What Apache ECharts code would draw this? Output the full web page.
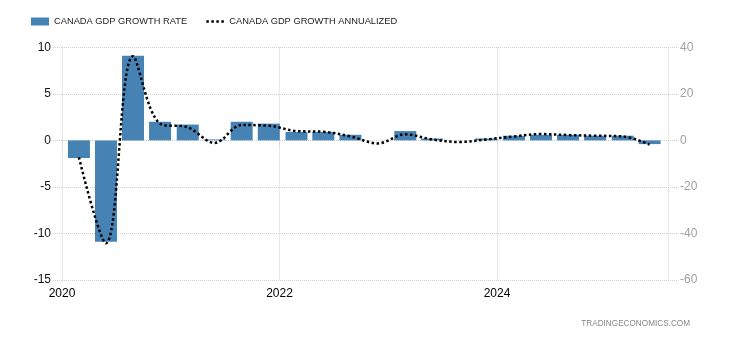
<!DOCTYPE html>
<html>
<head>
<meta charset="utf-8">
<script src="https://cdn.jsdelivr.net/npm/echarts@6/dist/echarts.min.js"></script>
<style>
html,body{margin:0;padding:0;background:#fff;}
#chart{width:730px;height:340px;}
</style>
</head>
<body>
<div id="chart"></div>
<script>
// Quarter dates (as plotted) Q1 2020 .. Q2 2025
var quarterDates = [
  '2020-02-27','2020-05-28','2020-08-27','2020-11-26',
  '2021-02-27','2021-05-28','2021-08-27','2021-11-26',
  '2022-02-27','2022-05-28','2022-08-27','2022-11-26',
  '2023-02-27','2023-05-28','2023-08-27','2023-11-26',
  '2024-02-27','2024-05-28','2024-08-27','2024-11-26',
  '2025-02-27','2025-05-28'
];
// CANADA GDP GROWTH RATE (% QoQ, left axis)
var growthRate = [-1.9, -10.9, 9.1, 2.0, 1.7, 0.1, 2.0, 1.8,
                  0.9, 0.9, 0.6, 0.0, 1.0, 0.2, 0.0, 0.2,
                  0.5, 0.6, 0.6, 0.5, 0.5, -0.4];
// CANADA GDP GROWTH ANNUALIZED (% right axis)
var growthAnnualized = [-7.3, -44.2, 36.2, 7.2, 5.6, -1.1, 6.6, 6.3,
                        4.0, 3.7, 1.7, -1.3, 2.6, 0.4, -0.7, 0.4,
                        1.7, 2.7, 2.3, 2.0, 1.7, -1.8];
var leftTicks = {min: -15, max: 10, interval: 5};
var rightTicks = {min: -60, max: 40, interval: 20};
var xRange = {min: 2020, max: 2025.572, interval: 2};

function toDecimalYear(s) {
  var d = new Date(s + 'T00:00:00Z');
  var y = d.getUTCFullYear();
  var start = Date.UTC(y, 0, 1), end = Date.UTC(y + 1, 0, 1);
  return y + (d.getTime() - start) / (end - start);
}
var xs = quarterDates.map(toDecimalYear);
var barData = xs.map(function (x, i) { return [x, growthRate[i]]; });
var lineData = xs.map(function (x, i) { return [x, growthAnnualized[i]]; });

var font = 'Liberation Sans, Arial, sans-serif';
var chart = echarts.init(document.getElementById('chart'), null, {renderer: 'canvas'});
chart.setOption({
  animation: false,
  backgroundColor: '#fff',
  textStyle: {fontFamily: font},
  legend: {
    left: 26, top: 12,
    itemWidth: 18, itemHeight: 8, itemGap: 18,
    textStyle: {fontSize: 9.3, color: '#222', fontFamily: font},
    data: [
      {name: 'CANADA GDP GROWTH RATE', icon: 'rect'},
      {name: 'CANADA GDP GROWTH ANNUALIZED', itemStyle: {opacity: 0},
       lineStyle: {color: '#000', width: 2.5, type: [2.5, 2.5], opacity: 1}}
    ]
  },
  grid: {left: 62, right: 62, top: 47.3, bottom: 60, containLabel: false},
  xAxis: {
    type: 'value',
    min: xRange.min, max: xRange.max, interval: xRange.interval,
    axisLine: {show: false},
    axisTick: {show: true, length: 6, lineStyle: {color: '#d0d0d0', type: 'dotted'}},
    splitLine: {show: true, lineStyle: {color: '#d0d0d0', type: 'dotted'}},
    axisLabel: {
      color: '#000', fontSize: 12, margin: 8, showMaxLabel: false,
      formatter: function (v) { return String(Math.round(v)); }
    }
  },
  yAxis: [
    {
      type: 'value', position: 'left',
      min: leftTicks.min, max: leftTicks.max, interval: leftTicks.interval,
      axisLine: {show: false},
      axisTick: {show: true, length: 9, lineStyle: {color: '#d0d0d0', type: 'dotted'}},
      splitLine: {show: true, lineStyle: {color: '#d0d0d0', type: 'dotted'}},
      axisLabel: {color: '#111', fontSize: 12, margin: 11}
    },
    {
      type: 'value', position: 'right',
      min: rightTicks.min, max: rightTicks.max, interval: rightTicks.interval,
      axisLine: {show: false},
      axisTick: {show: true, length: 9, lineStyle: {color: '#d0d0d0', type: 'dotted'}},
      splitLine: {show: false},
      axisLabel: {color: '#a0a0a0', fontSize: 12, margin: 12}
    }
  ],
  series: [
    {
      name: 'CANADA GDP GROWTH RATE',
      type: 'bar',
      yAxisIndex: 0,
      barWidth: 22,
      itemStyle: {color: '#4682b4'},
      data: barData
    },
    {
      name: 'CANADA GDP GROWTH ANNUALIZED',
      type: 'line',
      yAxisIndex: 1,
      smooth: 0.35,
      symbol: 'none',
      lineStyle: {color: '#000', width: 2.5, type: [2.5, 2.5]},
      itemStyle: {color: '#000'},
      data: lineData,
      z: 5
    }
  ],
  graphic: [
    {
      type: 'text', right: 40, top: 320,
      style: {text: 'TRADINGECONOMICS.COM', fill: '#888', font: '8.2px ' + font}
    }
  ]
});
</script>
</body>
</html>
